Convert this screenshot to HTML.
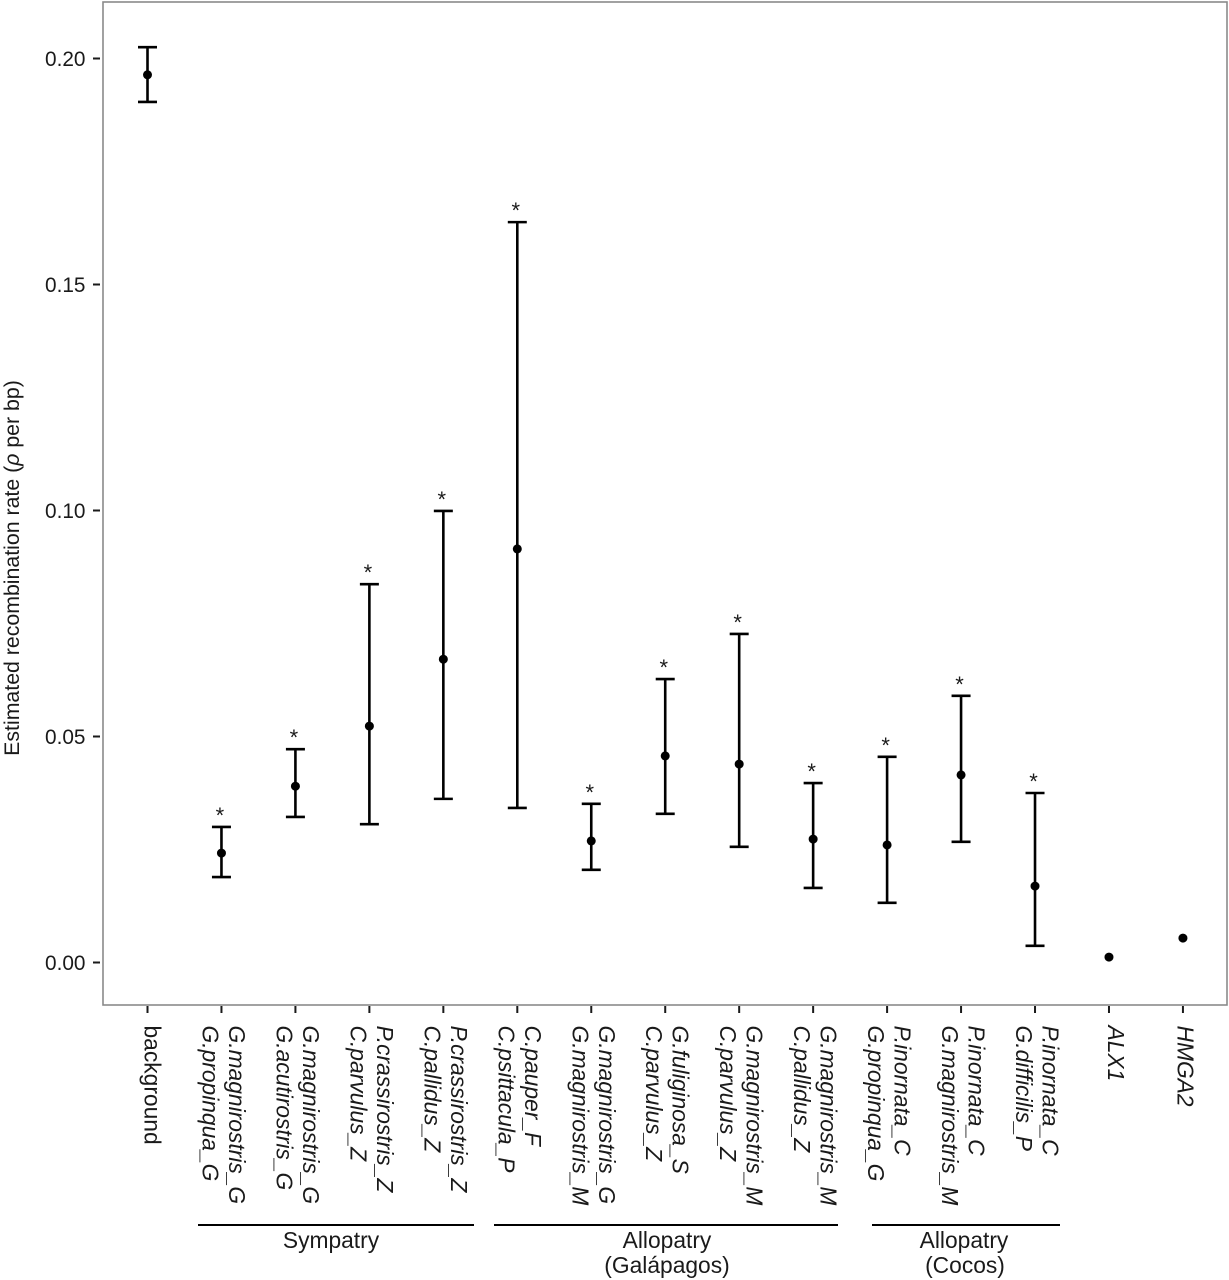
<!DOCTYPE html>
<html lang="en">
<head>
<meta charset="utf-8">
<title>Estimated recombination rate</title>
<style>
html,body{margin:0;padding:0;background:#fff;}
svg{display:block;}
text{font-family:"Liberation Sans",sans-serif;fill:#1a1a1a;}
</style>
</head>
<body>
<svg id="chart" xmlns="http://www.w3.org/2000/svg" width="1229" height="1280" viewBox="0 0 1229 1280">
  <rect x="103" y="2" width="1124" height="1003" fill="#fff" stroke="#8a8a8a" stroke-width="1.6"/>
  <g id="y-axis"></g>
  <g id="x-axis"></g>
  <g id="marks"></g>
  <text transform="translate(19,568) rotate(-90)" text-anchor="middle" font-size="21.3">Estimated recombination rate (<tspan font-style="italic">ρ</tspan> per bp)</text>

  <line x1="198" x2="474" y1="1225" y2="1225" stroke="#000" stroke-width="2"/>
  <text x="331" y="1248" text-anchor="middle" font-size="22.8">Sympatry</text>
  <line x1="494" x2="838" y1="1225" y2="1225" stroke="#000" stroke-width="2"/>
  <text x="667" y="1248" text-anchor="middle" font-size="22.8">Allopatry</text>
  <text x="667" y="1273" text-anchor="middle" font-size="22.8">(Galápagos)</text>
  <line x1="872" x2="1060" y1="1225" y2="1225" stroke="#000" stroke-width="2"/>
  <text x="964" y="1248" text-anchor="middle" font-size="22.8">Allopatry</text>
  <text x="965" y="1273" text-anchor="middle" font-size="22.8">(Cocos)</text>
</svg>
<script>
const categoryFirstLines = ["background","G.magnirostris_G","G.magnirostris_G","P.crassirostris_Z","P.crassirostris_Z","C.pauper_F","G.magnirostris_G","G.fuliginosa_S","G.magnirostris_M","G.magnirostris_M","P.inornata_C","P.inornata_C","P.inornata_C","ALX1","HMGA2"];
const categorySecondLines = ["","G.propinqua_G","G.acutirostris_G","C.parvulus_Z","C.pallidus_Z","C.psittacula_P","G.magnirostris_M","C.parvulus_Z","C.parvulus_Z","C.pallidus_Z","G.propinqua_G","G.magnirostris_M","G.difficilis_P","",""];
const italicCategory = [false,true,true,true,true,true,true,true,true,true,true,true,true,true,true];
const estimates = [0.1964,0.0242,0.0390,0.0523,0.0671,0.0915,0.0269,0.0457,0.0439,0.0273,0.0260,0.0415,0.0169,0.0012,0.0054];
const upperBounds = [0.2025,0.0300,0.0472,0.0837,0.0999,0.1638,0.0351,0.0627,0.0727,0.0397,0.0455,0.0590,0.0375,null,null];
const lowerBounds = [0.1904,0.0189,0.0322,0.0306,0.0362,0.0342,0.0205,0.0329,0.0256,0.0165,0.0132,0.0267,0.0037,null,null];
const significant = [false,true,true,true,true,true,true,true,true,true,true,true,true,false,false];
const yTickValues = [0,0.05,0.10,0.15,0.20];
const yTickLabels = ["0.00","0.05","0.10","0.15","0.20"];

const NS = "http://www.w3.org/2000/svg";
function xScale(i){ return 147.5 + i * 73.96; }
function yScale(v){ return 962.5 - v * 4520; }
function make(parent, tag, attrs, text){
  const el = document.createElementNS(NS, tag);
  for (const k in attrs) el.setAttribute(k, attrs[k]);
  if (text !== undefined) el.textContent = text;
  parent.appendChild(el);
  return el;
}
function singleLineOffset(name){
  if (name === "ALX1") return -1;
  if (name === "HMGA2") return -5.5;
  return -3;
}
const yAxis = document.getElementById("y-axis");
const xAxis = document.getElementById("x-axis");
const marks = document.getElementById("marks");

yTickValues.forEach(function(v, i){
  const y = yScale(v);
  const tick = make(yAxis, "line", {x1:93, x2:100, y1:y, y2:y, stroke:"#1a1a1a", "stroke-width":2});
  
  
  const label = make(yAxis, "text", {x:85.5, y:y+7.5, "text-anchor":"end", "font-size":20.8}, yTickLabels[i]);
  
  
});

categoryFirstLines.forEach(function(name, i){
  const x = xScale(i);
  const tick = make(xAxis, "line", {x1:x, x2:x, y1:1006, y2:1013, stroke:"#1a1a1a", "stroke-width":2});
  
  
  const two = categorySecondLines[i] !== "";
  const style = italicCategory[i] ? "italic" : "normal";
  const first = make(xAxis, "text", {transform:"translate(" + (x + (two ? 7.5 : singleLineOffset(name))) + ",1025.5) rotate(90)", "font-size":22.8, "font-style":style}, name);
  
  
  if (two) {
    const second = make(xAxis, "text", {transform:"translate(" + (x - 19) + ",1025.5) rotate(90)", "font-size":22.8, "font-style":style}, categorySecondLines[i]);
    
    
  }
});

estimates.forEach(function(v, i){
  const x = xScale(i);
  if (upperBounds[i] !== null) {
    const hi = yScale(upperBounds[i]);
    const lo = yScale(lowerBounds[i]);
    const bar = make(marks, "path", {d:"M"+(x-9.5)+" "+hi+"H"+(x+9.5)+"M"+x+" "+hi+"V"+lo+"M"+(x-9.5)+" "+lo+"H"+(x+9.5), fill:"none", stroke:"#000", "stroke-width":2.6});
    
    
    if (significant[i]) {
      const star = make(marks, "text", {x:x-1.5, y:hi-4, "text-anchor":"middle", "font-size":22}, "*");
      
      
    }
  }
  const dot = make(marks, "circle", {cx:x, cy:yScale(v), r:4.5, fill:"#000"});
  
  
});
</script>
</body>
</html>
